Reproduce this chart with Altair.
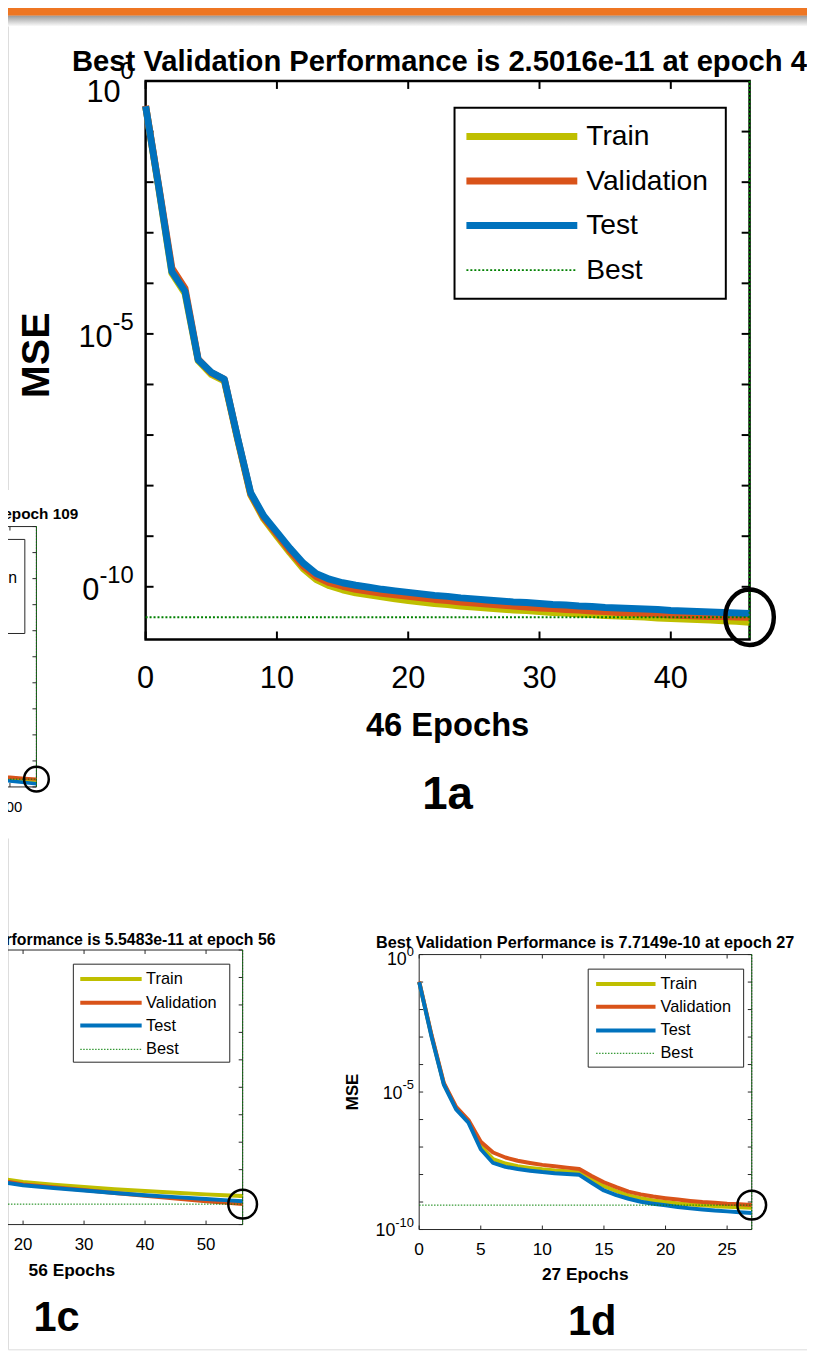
import altair as alt
import pandas as pd

# ---------------------------------------------------------------
# page geometry (reference pixel coords -> chart coords, 8px page margin)
OFF = 8
W, H = 807, 1348


def X(v):
    return v - OFF


def Y(v):
    return v - OFF


FONT = "Liberation Sans, Arial, Helvetica, sans-serif"

SERIES = ["Train", "Validation", "Test", "Best"]
COLORS = {"Train": "#BFBF00", "Validation": "#D95319", "Test": "#0072BD", "Best": "#008000"}

DUMMY = pd.DataFrame({"k": [0]})

# ---------------------------------------------------------------
# DATA  (log10 of MSE, per epoch)
epochs_1a = list(range(0, 47))
train_1a = [-0.50, -2.12, -3.80, -4.20, -5.53, -5.80, -5.93, -7.08, -8.18, -8.66, -9.00, -9.33,
            -9.64, -9.86, -9.98, -10.06, -10.12, -10.16, -10.20, -10.24, -10.27, -10.30, -10.33,
            -10.35, -10.38, -10.40, -10.42, -10.44, -10.46, -10.47, -10.49, -10.51, -10.52, -10.54,
            -10.55, -10.57, -10.58, -10.59, -10.60, -10.62, -10.63, -10.64, -10.65, -10.66, -10.67,
            -10.68, -10.70]
val_1a = [-0.49, -2.08, -3.70, -4.10, -5.50, -5.77, -5.90, -7.06, -8.16, -8.63, -8.96, -9.29,
          -9.59, -9.80, -9.92, -9.99, -10.05, -10.09, -10.13, -10.16, -10.19, -10.22, -10.25,
          -10.27, -10.30, -10.32, -10.34, -10.36, -10.38, -10.40, -10.42, -10.43, -10.45, -10.46,
          -10.48, -10.49, -10.51, -10.52, -10.53, -10.54, -10.56, -10.57, -10.58, -10.59, -10.59,
          -10.60, -10.602]
test_1a = [-0.50, -2.10, -3.77, -4.16, -5.51, -5.76, -5.90, -7.05, -8.14, -8.60, -8.92, -9.24,
           -9.53, -9.74, -9.85, -9.92, -9.97, -10.01, -10.05, -10.08, -10.11, -10.14, -10.17,
           -10.19, -10.22, -10.24, -10.26, -10.28, -10.30, -10.31, -10.33, -10.35, -10.36, -10.38,
           -10.39, -10.41, -10.42, -10.43, -10.44, -10.45, -10.47, -10.48, -10.49, -10.50, -10.51,
           -10.52, -10.53]
best_1a = (46, 2.5016e-11)

epochs_1b = [90, 95, 100, 105, 109]
train_1b = [-9.60, -9.64, -9.68, -9.72, -9.75]
val_1b = [-9.55, -9.59, -9.63, -9.67, -9.70]
test_1b = [-9.66, -9.71, -9.77, -9.83, -9.88]
best_1b = (109, 1.9953e-10)

epochs_1c = [14, 16, 20, 25, 30, 35, 40, 45, 50, 53, 56]
train_1c = [-9.25, -9.32, -9.45, -9.55, -9.63, -9.71, -9.78, -9.84, -9.90, -9.93, -9.96]
val_1c = [-9.30, -9.38, -9.54, -9.64, -9.74, -9.85, -9.95, -10.05, -10.15, -10.20, -10.256]
test_1c = [-9.35, -9.44, -9.57, -9.67, -9.76, -9.85, -9.93, -10.00, -10.07, -10.11, -10.15]
best_1c = (56, 5.5483e-11)

epochs_1d = list(range(0, 28))
train_1d = [-1.00, -2.95, -4.70, -5.58, -6.06, -6.96, -7.44, -7.60, -7.70, -7.76, -7.81, -7.85,
            -7.88, -7.92, -8.18, -8.42, -8.60, -8.76, -8.86, -8.94, -9.00, -9.05, -9.09, -9.12,
            -9.15, -9.17, -9.19, -9.21]
val_1d = [-0.98, -2.92, -4.67, -5.54, -6.02, -6.81, -7.20, -7.38, -7.50, -7.58, -7.65, -7.70,
          -7.75, -7.80, -8.05, -8.28, -8.46, -8.62, -8.72, -8.80, -8.86, -8.91, -8.96, -9.00,
          -9.03, -9.06, -9.08, -9.11]
test_1d = [-1.00, -2.98, -4.73, -5.63, -6.11, -7.08, -7.58, -7.72, -7.80, -7.86, -7.91, -7.95,
           -7.98, -8.01, -8.30, -8.58, -8.75, -8.88, -8.99, -9.06, -9.12, -9.18, -9.23, -9.27,
           -9.31, -9.34, -9.37, -9.40]
best_1d = (27, 7.7149e-10)

xticks_1a = [0, 10, 20, 30, 40]
xlabels_1a = ["0", "10", "20", "30", "40"]
xticks_1b = [0, 20, 40, 60, 80, 100]
xlabels_1b = ["0", "20", "40", "60", "80", "100"]
xticks_1c = [0, 10, 20, 30, 40, 50]
xlabels_1c = ["0", "10", "20", "30", "40", "50"]
xticks_1d = [0, 5, 10, 15, 20, 25]
xlabels_1d = ["0", "5", "10", "15", "20", "25"]
decades_0_10 = [1, 1e-1, 1e-2, 1e-3, 1e-4, 1e-5, 1e-6, 1e-7, 1e-8, 1e-9, 1e-10]
decades_1_11 = [1e-1, 1e-2, 1e-3, 1e-4, 1e-5, 1e-6, 1e-7, 1e-8, 1e-9, 1e-10, 1e-11]
yticks_lab = [1, 1e-5, 1e-10]
ylabel_base = ["10", "10", "10"]
ylabel_exp = ["0", "-5", "-10"]

titles = {
    "1a": "Best Validation Performance is 2.5016e-11 at epoch 46",
    "1b": "Best Validation Performance is 1.9953e-10 at epoch 109",
    "1c": "Best Validation Performance is 5.5483e-11 at epoch 56",
    "1d": "Best Validation Performance is 7.7149e-10 at epoch 27",
}


def text_width(s, size):
    return sum(0.333 if ch == "-" else 0.556 for ch in s) * size


# ---------------------------------------------------------------
def build_panel(p):
    xs = alt.Scale(domain=[0, p["xmax"]], range=[X(p["L"]), X(p["R"])], nice=False, zero=False)
    ys = alt.Scale(type="log", domain=[p["ymin"], p["ymax"]], range=[Y(p["B"]), Y(p["T"])], nice=False)
    L, R, T, B = p["L"], p["R"], p["T"], p["B"]
    fc, fw, tl, tw = p["fc"], p["fw"], p["tl"], p["tw"]
    layers = []
    layers.append(alt.Chart(DUMMY).mark_rect(fill="white", fillOpacity=0, stroke=fc, strokeWidth=fw).encode(
        x=alt.value(X(L)), x2=alt.value(X(R)), y=alt.value(Y(T)), y2=alt.value(Y(B))))

    xt = pd.DataFrame({"v": p["xticks"], "t": p["xlabels"]})
    yt = pd.DataFrame({"v": p["yticks"]})
    layers.append(alt.Chart(xt).mark_rule(color=fc, strokeWidth=tw).encode(
        x=alt.X("v:Q", scale=xs, axis=None), y=alt.value(Y(B)), y2=alt.value(Y(B) - tl)))
    layers.append(alt.Chart(xt).mark_rule(color=fc, strokeWidth=tw).encode(
        x=alt.X("v:Q", scale=xs, axis=None), y=alt.value(Y(T)), y2=alt.value(Y(T) + tl)))
    layers.append(alt.Chart(yt).mark_rule(color=fc, strokeWidth=tw).encode(
        y=alt.Y("v:Q", scale=ys, axis=None), x=alt.value(X(L)), x2=alt.value(X(L) + tl)))
    layers.append(alt.Chart(yt).mark_rule(color=fc, strokeWidth=tw).encode(
        y=alt.Y("v:Q", scale=ys, axis=None), x=alt.value(X(R) - tl), x2=alt.value(X(R))))

    # tick labels (through the panel scales)
    xl = p["xlab"]
    layers.append(alt.Chart(xt).mark_text(align="center", baseline="middle", font=FONT, fontSize=xl["size"],
                                          color="black").encode(
        x=alt.X("v:Q", scale=xs, axis=None), y=alt.value(Y(xl["y"])), text="t:N"))
    if p.get("ylab"):
        yl = p["ylab"]
        for i, (v, b, e) in enumerate(zip(yticks_lab, ylabel_base, ylabel_exp)):
            ew = text_width(e, yl["esize"])
            bdy = yl["bdy"][i]
            edy = yl["edy"][i]
            bdf_ = pd.DataFrame({"v": [v], "t": [b]})
            edf_ = pd.DataFrame({"v": [v], "t": [e]})
            layers.append(alt.Chart(bdf_).mark_text(align="right", baseline="middle", font=FONT,
                                                    fontSize=yl["bsize"], color="black", dy=bdy).encode(
                y=alt.Y("v:Q", scale=ys, axis=None), x=alt.value(X(yl["x"] - ew)), text="t:N"))
            layers.append(alt.Chart(edf_).mark_text(align="right", baseline="middle", font=FONT,
                                                    fontSize=yl["esize"], color="black", dy=edy).encode(
                y=alt.Y("v:Q", scale=ys, axis=None), x=alt.value(X(yl["x"])), text="t:N"))

    for name, vals in zip(["Train", "Validation", "Test"], p["series"]):
        df = pd.DataFrame({"epoch": p["epochs"], "mse": [10 ** v for v in vals]})
        layers.append(alt.Chart(df).mark_line(color=COLORS[name], strokeWidth=p["lw"], strokeJoin="round").encode(
            x=alt.X("epoch:Q", scale=xs, axis=None), y=alt.Y("mse:Q", scale=ys, axis=None)))

    bdf = pd.DataFrame({"epoch": [p["best"][0]], "mse": [p["best"][1]]})
    layers.append(alt.Chart(bdf).mark_rule(color=COLORS["Best"], strokeWidth=p["bw"], strokeDash=p["dash"]).encode(
        y=alt.Y("mse:Q", scale=ys, axis=None), x=alt.value(X(L)), x2=alt.value(X(R))))
    layers.append(alt.Chart(bdf).mark_rule(color=COLORS["Best"], strokeWidth=p["bw"], strokeDash=p["dash"]).encode(
        x=alt.X("epoch:Q", scale=xs, axis=None), y=alt.value(Y(T)), y2=alt.value(Y(B))))
    rx = p["circle"][0] / p["circle"][1]
    shape = f"M {-rx} 0 A {rx} 1 0 1 0 {rx} 0 A {rx} 1 0 1 0 {-rx} 0 Z"
    layers.append(alt.Chart(bdf).mark_point(shape=shape, size=(2 * p["circle"][1]) ** 2, filled=False,
                                            color="black", strokeWidth=p["cw"], opacity=1).encode(
        x=alt.X("epoch:Q", scale=xs, axis=None), y=alt.Y("mse:Q", scale=ys, axis=None)))
    return alt.layer(*layers)


def legend(box, ys, sx, tx, fsize, lw, fc, fw, bw, dash):
    L, T, R, B = box
    out = [alt.Chart(DUMMY).mark_rect(fill="white", stroke=fc, strokeWidth=fw).encode(
        x=alt.value(X(L)), x2=alt.value(X(R)), y=alt.value(Y(T)), y2=alt.value(Y(B)))]
    for name, yy in zip(SERIES, ys):
        kw = dict(color=COLORS[name], strokeWidth=lw)
        if name == "Best":
            kw = dict(color=COLORS[name], strokeWidth=bw, strokeDash=dash)
        out.append(alt.Chart(DUMMY).mark_rule(**kw).encode(
            x=alt.value(X(sx[0])), x2=alt.value(X(sx[1])), y=alt.value(Y(yy))))
        out.append(alt.Chart(DUMMY).mark_text(align="left", baseline="middle", font=FONT, fontSize=fsize,
                                              color="black", text=name).encode(
            x=alt.value(X(tx)), y=alt.value(Y(yy))))
    return out


def label(text, x, y, size, bold=True, baseline="alphabetic", angle=0):
    kw = dict(align="center", baseline=baseline, font=FONT, fontSize=size,
              fontWeight="bold" if bold else "normal", color="black", text=text)
    if angle:
        kw["angle"] = angle
    return alt.Chart(DUMMY).mark_text(**kw).encode(x=alt.value(X(x)), y=alt.value(Y(y)))


# ---------------------------------------------------------------
p1a = dict(L=147, R=757, T=75, B=639, xmax=46, ymin=9.1e-12, ymax=1,
           xticks=xticks_1a, xlabels=xlabels_1a, yticks=decades_0_10, epochs=epochs_1a,
           series=[train_1a, val_1a, test_1a],
           best=best_1a, fc="black", fw=2.5, tl=8, tw=2, lw=7, bw=2, dash=[2, 2],
           circle=(24.5, 28), cw=4.5,
           xlab=dict(size=31, y=679),
           ylab=dict(bsize=31, esize=24, x=135, bdy=[12, 4, 4], edy=[-9, -11, -11]))
p1b = dict(L=-287, R=36.7, T=525, B=788, xmax=109, ymin=1e-10, ymax=1,
           xticks=xticks_1b, xlabels=xlabels_1b, yticks=decades_0_10, epochs=epochs_1b,
           series=[train_1b, val_1b, test_1b],
           best=best_1b, fc="#262626", fw=1, tl=4, tw=1, lw=3.5, bw=1, dash=[1.5, 1.5],
           circle=(12.5, 12.5), cw=2.5,
           xlab=dict(size=15, y=808.5))
p1c = dict(L=-100, R=245, T=952.7, B=1230, xmax=56, ymin=1e-11, ymax=1e-1,
           xticks=xticks_1c, xlabels=xlabels_1c, yticks=decades_1_11, epochs=epochs_1c,
           series=[train_1c, val_1c, test_1c],
           best=best_1c, fc="#262626", fw=1, tl=4, tw=1, lw=4, bw=1, dash=[1.5, 1.5],
           circle=(14.5, 14.5), cw=2.5,
           xlab=dict(size=17, y=1251))
p1d = dict(L=423.3, R=759.2, T=957.3, B=1235, xmax=27, ymin=1e-10, ymax=1,
           xticks=xticks_1d, xlabels=xlabels_1d, yticks=decades_0_10, epochs=epochs_1d,
           series=[train_1d, val_1d, test_1d],
           best=best_1d, fc="#262626", fw=1, tl=4, tw=1, lw=4, bw=1, dash=[1.5, 1.5],
           circle=(14.5, 14.5), cw=2.5,
           xlab=dict(size=17.5, y=1256),
           ylab=dict(bsize=18, esize=13, x=418, bdy=[6, 2, 2], edy=[-3, -7, -7]))

layers = []
layers.append(build_panel(p1a))
layers += legend((459, 102, 733, 295), [131, 176, 221, 266], (471, 583), 592, 28.5, 7,
                 "black", 2, 2, [2, 2])
layers.append(label(titles["1a"], 452, 65, 29.5))
layers.append(label("46 Epochs", 452, 727, 33, baseline="middle"))
layers.append(label("MSE", 37, 352, 40, baseline="middle", angle=270))
layers.append(label("1a", 452, 810, 46))

# 1b sits on top of 1a (its white background hides part of 1a's label)
layers.append(alt.Chart(DUMMY).mark_rect(fill="white").encode(
    x=alt.value(X(-20)), x2=alt.value(X(82)), y=alt.value(Y(488)), y2=alt.value(Y(840))))
layers.append(build_panel(p1b))
layers += legend((-130, 538, 25, 633), [556, 577, 598, 618], (-112, -56), -52, 16, 4,
                 "#262626", 1, 1, [1.5, 1.5])
layers.append(label(titles["1b"], -125, 517, 15.5))
layers.append(label("109 Epochs", -125, 832, 16, baseline="middle"))

layers.append(build_panel(p1c))
layers += legend((74, 967, 232, 1066), [982, 1006, 1029, 1053], (81, 143), 147.5, 16.5, 4,
                 "#262626", 1, 1, [1.5, 1.5])
layers.append(label(titles["1c"], 72.5, 947.7, 16))
layers.append(label("56 Epochs", 72.5, 1277, 17.5, baseline="middle"))
layers.append(label("1c", 57, 1338, 42))

layers.append(build_panel(p1d))
layers += legend((594, 972, 751, 1071), [987, 1010, 1034, 1057], (602, 662), 667, 16.5, 4,
                 "#262626", 1, 1, [1.5, 1.5])
layers.append(label(titles["1d"], 591, 950.7, 16.4))
layers.append(label("27 Epochs", 591, 1281, 17.5, baseline="middle"))
layers.append(label("MSE", 356, 1096, 17, baseline="middle", angle=270))
layers.append(label("1d", 598, 1341.7, 42))

# slide header bar
layers.append(alt.Chart(DUMMY).mark_rect(color="#EE7623").encode(
    x=alt.value(X(-10)), x2=alt.value(X(830)), y=alt.value(Y(-10)), y2=alt.value(Y(9))))
layers.append(alt.Chart(DUMMY).mark_rect(color=alt.LinearGradient(
    gradient="linear", x1=0, x2=0, y1=0, y2=1,
    stops=[alt.GradientStop(color="#9a9a9a", offset=0), alt.GradientStop(color="#ffffff", offset=1)])).encode(
    x=alt.value(X(-10)), x2=alt.value(X(830)), y=alt.value(Y(9)), y2=alt.value(Y(20))))

chart = alt.layer(*layers).resolve_scale(x="independent", y="independent").properties(
    width=W, height=H, autosize=alt.AutoSizeParams(type="none"), padding=0
).configure_view(stroke=None).configure(background="white")

chart.save("out.html", embed_options={"renderer": "svg", "actions": False})
